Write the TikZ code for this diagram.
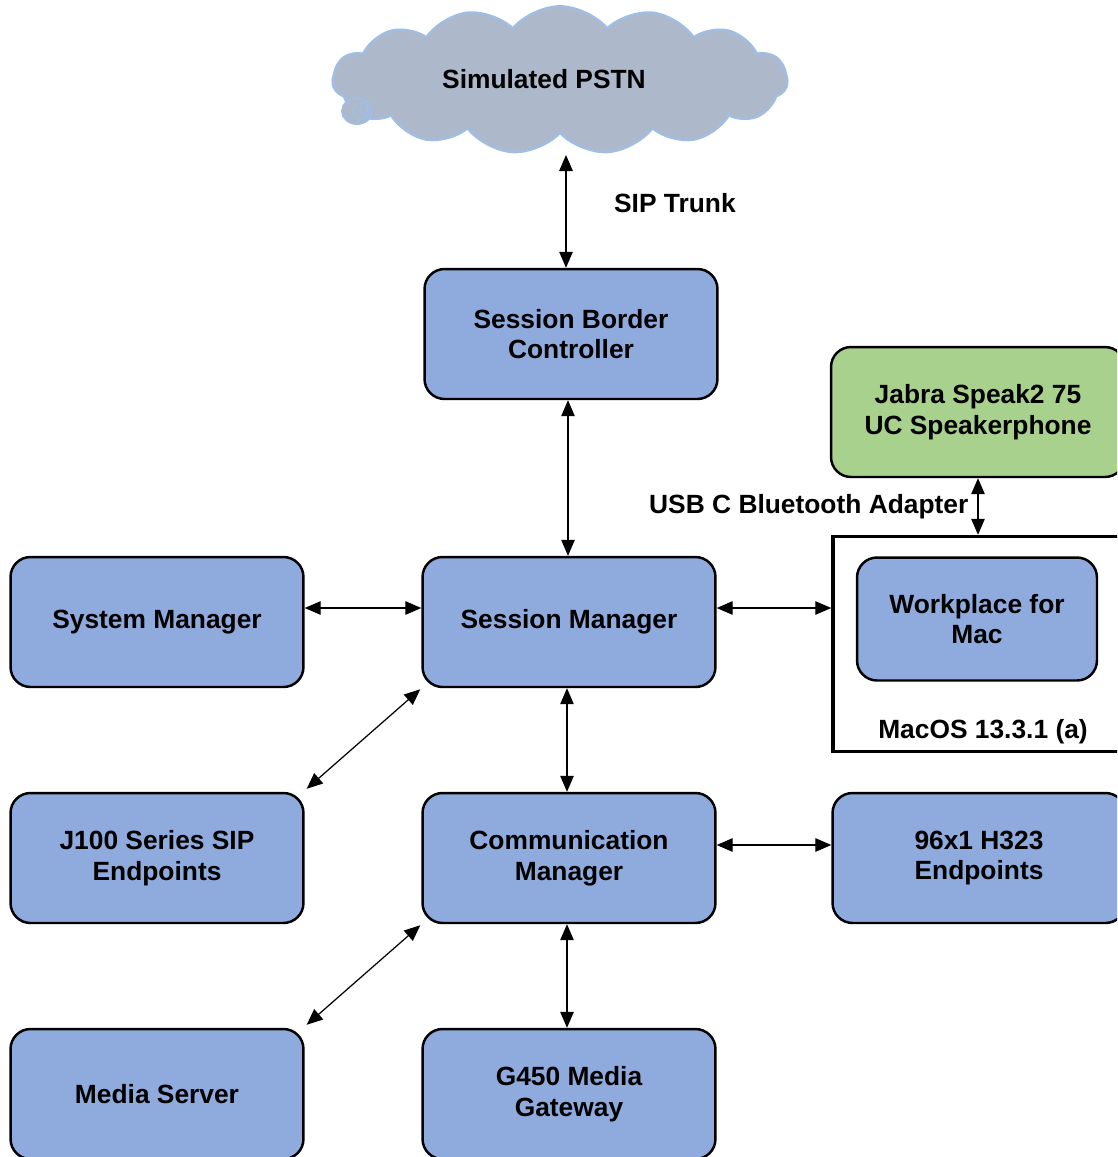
\documentclass[tikz,border=0pt]{standalone}
\usepackage{fontspec}
\setmainfont{Liberation Sans}
\usepackage{tikz}
\usetikzlibrary{arrows.meta,positioning,shapes.symbols}
\definecolor{boxblue}{RGB}{143,170,220}
\definecolor{boxgreen}{RGB}{169,209,142}
\definecolor{cloudfill}{RGB}{173,185,202}
\definecolor{cloudline}{RGB}{160,190,228}
\tikzset{unit/.style={rectangle,rounded corners=0.4cm,draw=black,line width=1.4pt,fill=boxblue,minimum width=5.86cm,minimum height=2.6cm,inner sep=0pt,align=center,font=\fontsize{15}{17.5}\selectfont\bfseries}}
\tikzset{lbl/.style={inner sep=0pt,font=\fontsize{15}{17.5}\selectfont\bfseries}}
\tikzset{link/.style={{Triangle[length=0.32cm,width=0.27cm]}-{Triangle[length=0.32cm,width=0.27cm]},line width=0.7pt}}

\begin{document}
\begin{tikzpicture}[x=0.02cm,y=-0.02cm]
  \useasboundingbox (0,0) rectangle (1117,1157);
  \clip (0,0) rectangle (1117,1157);
  % cloud
  \node[cloud,cloud puffs=15,cloud puff arc=100,aspect=3.2,draw=cloudline,line width=1.3pt,fill=cloudfill,minimum width=9.1cm,minimum height=2.95cm,inner sep=0pt] (pstn) at (560,80) {};
  \draw[cloudline,line width=1.1pt,fill=cloudfill] (357,111) ellipse[x radius=15,y radius=13];
  \draw[cloudline,line width=0.9pt] (361,111) circle[radius=8];
  \draw[cloudline,line width=0.9pt] (364,111) circle[radius=4];
  \node[lbl] (pstnlbl) at (544,79) {Simulated PSTN};
  \coordinate (pstnbot) at (566,155);
  % boxes
  \node[unit] (sbc) at (571,334) {Session Border\\Controller};
  \node[unit] (sesmgr) at (569,622) {Session Manager};
  \node[unit] (sysmgr) at (157,622) {System Manager};
  \node[unit] (j100) at (157,858) {J100 Series SIP\\Endpoints};
  \node[unit] (cm) at (569,858) {Communication\\Manager};
  \node[unit] (h323) at (979,858) {96x1 H323\\Endpoints};
  \node[unit] (medsrv) at (157,1094) {Media Server};
  \node[unit] (g450) at (569,1094) {G450 Media\\Gateway};
  \node[unit,fill=boxgreen,minimum width=5.88cm] (jabra) at (978,412) {Jabra Speak2 75\\UC Speakerphone};
  \node[rectangle,draw=black,line width=2pt,minimum width=5.84cm,minimum height=4.3cm,inner sep=0pt] (macos) at (979,644) {};
  \node[unit,minimum width=4.8cm,minimum height=2.46cm] (wpmac) at (977,619) {Workplace for\\Mac};
  \node[lbl] (maclbl) at (983,732) {MacOS 13.3.1 (a)};
  % links
  \draw[link] (pstnbot) -- (pstnbot |- sbc.north) node[lbl,pos=0.43,right=0.95cm] (trunk) {SIP Trunk};
  \draw[link] ([xshift=-0.06cm]sbc.south) -- ([xshift=-0.06cm]sesmgr.north -| sbc);
  \draw[link] ([yshift=0.28cm]sysmgr.east) -- ([yshift=0.28cm]sesmgr.west);
  \draw[link] ([yshift=0.28cm]sesmgr.east) -- ([yshift=0.28cm]sesmgr.east -| macos.west);
  \draw[link] ([xshift=-0.04cm]sesmgr.south) -- ([xshift=-0.04cm]cm.north);
  \draw[link] ([xshift=-0.04cm]cm.south) -- ([xshift=-0.04cm]g450.north);
  \draw[link] ([yshift=0.26cm]cm.east) -- ([yshift=0.26cm]h323.west);
  \draw[link] ([shift={(0.04cm,0.06cm)}]j100.north east) -- ([shift={(-0.02cm,-0.02cm)}]sesmgr.south west);
  \draw[link] ([shift={(0.04cm,0.06cm)}]medsrv.north east) -- ([shift={(-0.02cm,-0.02cm)}]cm.south west);
  \draw[link] (jabra.south) -- (jabra.south |- macos.north) node[lbl,midway,left=0.18cm] (usb) {USB C Bluetooth Adapter};
\end{tikzpicture}
\end{document}
